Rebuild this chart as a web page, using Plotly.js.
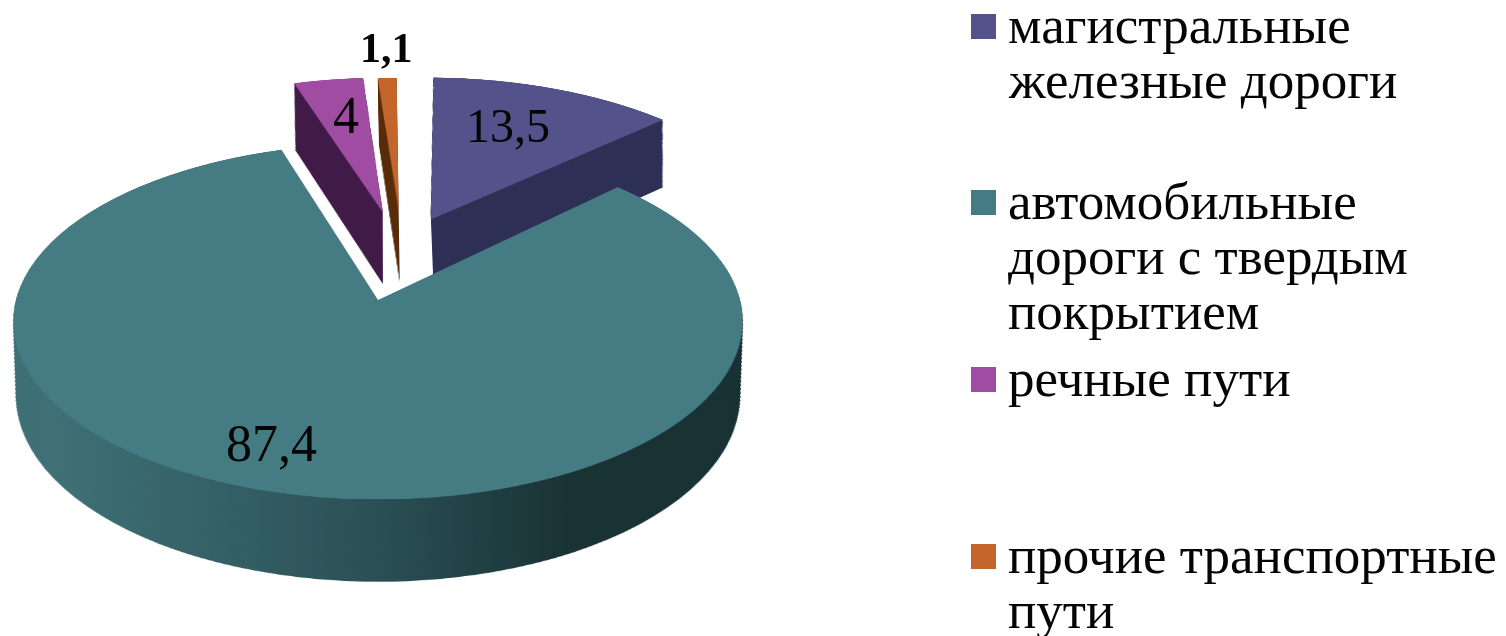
<!DOCTYPE html>
<html><head><meta charset="utf-8">
<script src="https://cdn.plot.ly/plotly-3.0.1.min.js"></script>
<style>
html,body{margin:0;padding:0;background:#fff;width:1506px;height:636px;overflow:hidden}
#stage{position:relative;width:1506px;height:636px;isolation:isolate;background:#fff;overflow:hidden}
.layer{position:absolute}
.tilt{width:1400px;height:1400px;left:-322px;top:-400px;transform:perspective(2635px) rotateX(61deg);transform-origin:50% 50%}
#shade{left:0;top:300px;width:1506px;height:336px;mix-blend-mode:screen;background:linear-gradient(90deg,#2a4d53 0px,#2a4d53 60px,#122428 380px,#000 570px)}
#text{left:0;top:0}
</style></head><body>
<div id="stage">
<div id="side" class="layer tilt"></div>
<div id="shade" class="layer"></div>
<div id="top" class="layer tilt"></div>
<div id="text" class="layer"></div>
</div>
<script>
const categories=["магистральные<br>железные дороги","автомобильные<br>дороги с твердым<br>покрытием","речные пути","прочие транспортные<br>пути"];
const values=[13.5,87.4,4,1.1];
const valueLabels=["13,5","87,4","4","1,1"];
const topColors=["#54528a","#457c84","#a04ca2","#c4652c"];
const sideColors=["#2f3056","#1a3335","#421c48","#5a2e0c"];
// explode: offset of each slice's apex from the pie centre, radius, wall depth and bottom shrink, in the pie's plane
const sliceOffsetX=[56,0,5,22];
const sliceOffsetY=[176,0,193,198];
const sliceRadius=[366,362,348,343];
const sliceDepth=[157,145,160,160];
const sliceShrink=[0.94,0.945,0.94,0.94];
const sliceRotation=[1.5,0,0,0];
const depthSteps=70;
const S=1400, clear="rgba(0,0,0,0)";
const layoutBase={width:S,height:S,margin:{l:0,r:0,t:0,b:0},paper_bgcolor:clear,plot_bgcolor:clear,showlegend:false};
function sliceTrace(i,colors,t){
 const k=1-(1-sliceShrink[i])*t, r=sliceRadius[i]*k, cx=S/2+sliceOffsetX[i], cy=S/2+sliceOffsetY[i]-sliceDepth[i]*t;
 return {type:"pie",values:values,labels:categories,sort:false,direction:"clockwise",rotation:sliceRotation[i],textinfo:"none",hoverinfo:"none",
  marker:{colors:colors.map((c,j)=>j===i?c:clear),line:{width:0}},
  domain:{x:[(cx-r)/S,(cx+r)/S],y:[(cy-r)/S,(cy+r)/S]}};
}
const sideTraces=[];
for(let s=depthSteps;s>=1;s--){
 [0,2,3,1].forEach(i=>sideTraces.push(sliceTrace(i,sideColors,s/depthSteps)));
}
Plotly.newPlot("side",sideTraces,layoutBase,{staticPlot:true});
Plotly.newPlot("top",[0,2,3,1].map(i=>sliceTrace(i,topColors,0)),layoutBase,{staticPlot:true});

const font={family:"Liberation Serif",color:"#050505"};
const W=1506,H=636;
const itemY=[25,201,378,555];
const markerY=[27,203,380,557];
const lineStep=55;
const ann=[],shapes=[];
categories.forEach((c,i)=>{
 c.split("<br>").forEach((line,k)=>ann.push({x:1006/W,y:1-(itemY[i]+k*lineStep)/H,xref:"paper",yref:"paper",xanchor:"left",yanchor:"middle",showarrow:false,text:line,font:{...font,size:53}}));
 shapes.push({type:"rect",xref:"paper",yref:"paper",x0:971/W,x1:996/W,y0:1-(markerY[i]-13)/H,y1:1-(markerY[i]+12)/H,fillcolor:topColors[i],line:{width:0}});
});
const labelX=[508,271,346,386], labelY=[125,443,115,48], labelSize=[48,52,52,42];
valueLabels.forEach((t,i)=>ann.push({x:labelX[i]/W,y:1-labelY[i]/H,xref:"paper",yref:"paper",xanchor:"center",yanchor:"middle",showarrow:false,text:i===3?"<b>"+t+"</b>":t,font:{...font,size:labelSize[i]}}));
Plotly.newPlot("text",[],{width:W,height:H,margin:{l:0,r:0,t:0,b:0},paper_bgcolor:clear,plot_bgcolor:clear,xaxis:{visible:false},yaxis:{visible:false},annotations:ann,shapes:shapes},{staticPlot:true});
</script></body></html>
